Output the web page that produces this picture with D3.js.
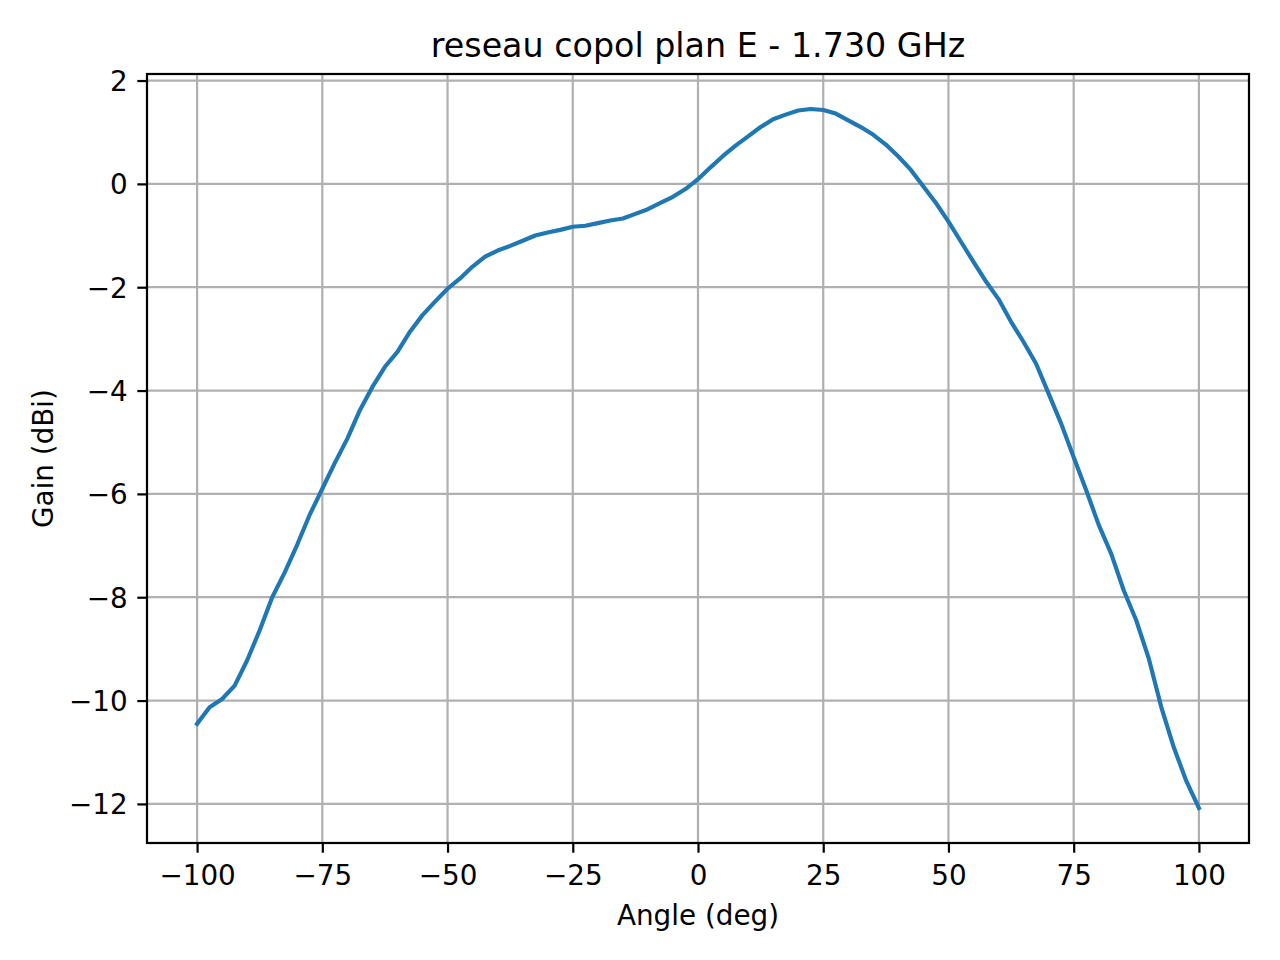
<!DOCTYPE html>
<html>
<head>
<meta charset="utf-8">
<script src="https://cdn.jsdelivr.net/npm/d3@7"></script>
<style>
  html, body { margin: 0; padding: 0; background: #fff; }
  svg { display: block; font-family: "DejaVu Sans", sans-serif; }
</style>
</head>
<body>
<svg id="chart" width="1280" height="960"></svg>
<script>
// ---- data ----
const angles = [
  -100, -97.5, -95, -92.5, -90, -87.5, -85, -82.5, -80, -77.5,
  -75, -72.5, -70, -67.5, -65, -62.5, -60, -57.5, -55, -52.5,
  -50, -47.5, -45, -42.5, -40, -37.5, -35, -32.5, -30, -27.5,
  -25, -22.5, -20, -17.5, -15, -12.5, -10, -7.5, -5, -2.5,
  0, 2.5, 5, 7.5, 10, 12.5, 15, 17.5, 20, 22.5,
  25, 27.5, 30, 32.5, 35, 37.5, 40, 42.5, 45, 47.5,
  50, 52.5, 55, 57.5, 60, 62.5, 65, 67.5, 70, 72.5,
  75, 77.5, 80, 82.5, 85, 87.5, 90, 92.5, 95, 97.5, 100
];
const gain = [
  -10.45, -10.13, -9.97, -9.71, -9.22, -8.64, -8.00, -7.52, -6.98, -6.40,
  -5.90, -5.40, -4.93, -4.38, -3.93, -3.54, -3.25, -2.86, -2.54, -2.28,
  -2.03, -1.83, -1.60, -1.41, -1.29, -1.20, -1.10, -1.00, -0.94, -0.89,
  -0.83, -0.81, -0.76, -0.71, -0.67, -0.58, -0.49, -0.37, -0.25, -0.10,
  0.09, 0.32, 0.54, 0.74, 0.92, 1.10, 1.25, 1.34, 1.42, 1.45,
  1.43, 1.36, 1.23, 1.10, 0.95, 0.76, 0.53, 0.27, -0.05, -0.37,
  -0.73, -1.12, -1.51, -1.89, -2.23, -2.67, -3.06, -3.48, -4.06, -4.64,
  -5.29, -5.93, -6.60, -7.16, -7.87, -8.45, -9.19, -10.13, -10.91, -11.56, -12.08
];
const xTicks = [-100, -75, -50, -25, 0, 25, 50, 75, 100];
const yTicks = [-12, -10, -8, -6, -4, -2, 0, 2];
const titleText = "reseau copol plan E - 1.730 GHz";
const xLabelText = "Angle (deg)";
const yLabelText = "Gain (dBi)";

// ---- layout ----
const L = 147, R = 1249, T = 74, B = 843;
const svg = d3.select("#chart");

const xExt = d3.extent(angles), yExt = d3.extent(gain);
const xm = (xExt[1] - xExt[0]) * 0.05, ym = (yExt[1] - yExt[0]) * 0.05;
const x = d3.scaleLinear().domain([xExt[0] - xm, xExt[1] + xm]).range([L, R]);
const y = d3.scaleLinear().domain([yExt[0] - ym, yExt[1] + ym]).range([B, T]);

const fmt = v => (v < 0 ? "\u2212" + Math.abs(v) : String(v));
const gridColor = "#b0b0b0";
const lw = 2.22;

// grid
const grid = svg.append("g");
grid.selectAll("line.gx").data(xTicks).join("line")
  .attr("x1", d => x(d)).attr("x2", d => x(d))
  .attr("y1", T).attr("y2", B)
  .attr("stroke", gridColor).attr("stroke-width", lw);
grid.selectAll("line.gy").data(yTicks).join("line")
  .attr("x1", L).attr("x2", R)
  .attr("y1", d => y(d)).attr("y2", d => y(d))
  .attr("stroke", gridColor).attr("stroke-width", lw);

// data line
const pts = angles.map((a, i) => [a, gain[i]]);
svg.append("path")
  .datum(pts)
  .attr("d", d3.line().x(d => x(d[0])).y(d => y(d[1])))
  .attr("fill", "none")
  .attr("stroke", "#1f77b4")
  .attr("stroke-width", 4.17)
  .attr("stroke-linejoin", "round")
  .attr("stroke-linecap", "square");

// axes with d3
const xAxis = d3.axisBottom(x).tickValues(xTicks).tickFormat(fmt).tickSizeInner(9.7).tickSizeOuter(0).tickPadding(9.7);
const yAxis = d3.axisLeft(y).tickValues(yTicks).tickFormat(fmt).tickSizeInner(9.7).tickSizeOuter(0).tickPadding(9.7);

const gx = svg.append("g").attr("transform", `translate(0,${B})`).call(xAxis);
const gy = svg.append("g").attr("transform", `translate(${L},0)`).call(yAxis);
[gx, gy].forEach(g => {
  g.select(".domain").remove();
  g.selectAll(".tick line").attr("stroke", "#000").attr("stroke-width", lw);
  g.selectAll(".tick text")
    .attr("fill", "#000")
    .style("font-family", "'DejaVu Sans', sans-serif")
    .style("font-size", "27.8px");
});
gx.selectAll(".tick text").attr("dy", null).attr("y", 9.7 + 9.7 + 22.6);
gy.selectAll(".tick text").attr("dy", null).attr("y", 10);

// spines
svg.append("rect")
  .attr("x", L).attr("y", T).attr("width", R - L).attr("height", B - T)
  .attr("fill", "none").attr("stroke", "#000").attr("stroke-width", lw);

// title & labels
svg.append("text")
  .attr("x", (L + R) / 2).attr("y", 57)
  .attr("text-anchor", "middle")
  .style("font-size", "33.3px")
  .text(titleText);

svg.append("text")
  .attr("x", (L + R) / 2).attr("y", 925)
  .attr("text-anchor", "middle")
  .style("font-size", "27.8px")
  .text(xLabelText);

svg.append("text")
  .attr("transform", `translate(53,${(T + B) / 2}) rotate(-90)`)
  .attr("text-anchor", "middle")
  .style("font-size", "27.8px")
  .text(yLabelText);
</script>
</body>
</html>
